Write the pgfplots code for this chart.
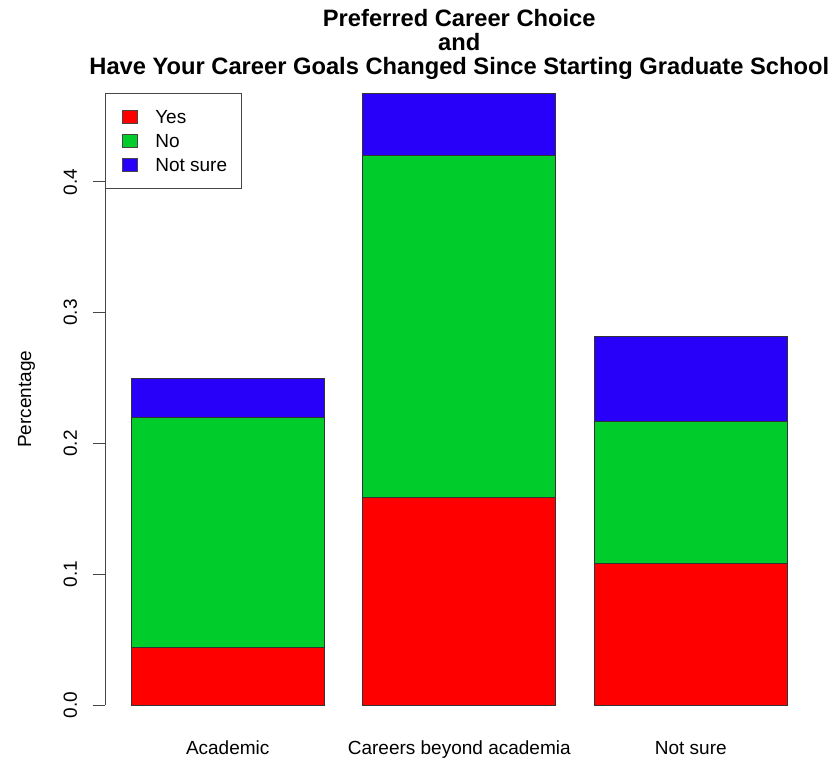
\documentclass[border=0pt]{standalone}
\usepackage{pgfplots}
\pgfplotsset{compat=1.18}
\usepackage{fontspec}
\setmainfont{Liberation Sans}
\newcommand\lfont{\fontsize{19bp}{23bp}\selectfont}
\newcommand\tfont{\fontsize{23.7bp}{24bp}\selectfont\bfseries}
\definecolor{cYes}{RGB}{254,0,0}
\definecolor{cNo}{RGB}{0,204,44}
\definecolor{cNS}{RGB}{40,0,250}
\definecolor{axgray}{RGB}{70,70,70}
\begin{document}
\begin{tikzpicture}
\useasboundingbox (0,0) rectangle (838bp,760bp);
\begin{axis}[
  at={(105bp,55bp)}, anchor=south west,
  scale only axis, width=708.5bp, height=611.7bp,
  xmin=0.064, xmax=3.736, ymin=0, ymax=0.4677,
  ybar stacked, bar width=1,
  axis line style={draw=none},
  tick pos=left,
  xtick={0.7,1.9,3.1},
  xticklabels={Academic,Careers beyond academia,Not sure},
  xtick style={draw=none},
  xticklabel style={font=\lfont, anchor=base, yshift=-37bp},
  ytick={0,0.1,0.2,0.3,0.4},
  yticklabels={0.0,0.1,0.2,0.3,0.4},
  tick align=outside,
  major tick length=12bp,
  ytick style={draw=axgray, line width=1bp},
  yticklabel style={font=\lfont, rotate=90, anchor=base, yshift=16bp},
  ylabel={Percentage},
  every axis y label/.style={at={(rel axis cs:0,0.5)}, rotate=90, anchor=base, yshift=74bp, font=\lfont},
  title={Preferred Career Choice\\and\\Have Your Career Goals Changed Since Starting Graduate School},
  title style={font=\tfont, align=center, at={(0.5,1)}, anchor=south, inner sep=0pt, yshift=8bp},
  legend style={at={(0,1)}, anchor=north west, draw=axgray, line width=1bp, fill=white,
    font=\lfont, inner xsep=12bp, inner ysep=13bp, row sep=3bp,
    nodes={inner sep=2bp, text height=15bp, text depth=2bp}},
  legend cell align=left,
  legend image code/.code={\draw[#1, draw=axgray, line width=0.8bp] (0bp,-6bp) rectangle (15bp,6.5bp); \path (-4bp,0bp) (31bp,0bp);},
]
\addplot[fill=cYes, draw=black!80, line width=0.8bp] coordinates {(0.7,0.044) (1.9,0.159) (3.1,0.108)};
\addplot[fill=cNo, draw=black!80, line width=0.8bp] coordinates {(0.7,0.176) (1.9,0.2615) (3.1,0.109)};
\addplot[fill=cNS, draw=black!80, line width=0.8bp] coordinates {(0.7,0.030) (1.9,0.047) (3.1,0.065)};
\legend{Yes,No,Not sure}
\draw[axgray, line width=1bp] (axis cs:0.064,0) -- (axis cs:0.064,0.4);
\end{axis}
\end{tikzpicture}
\end{document}
